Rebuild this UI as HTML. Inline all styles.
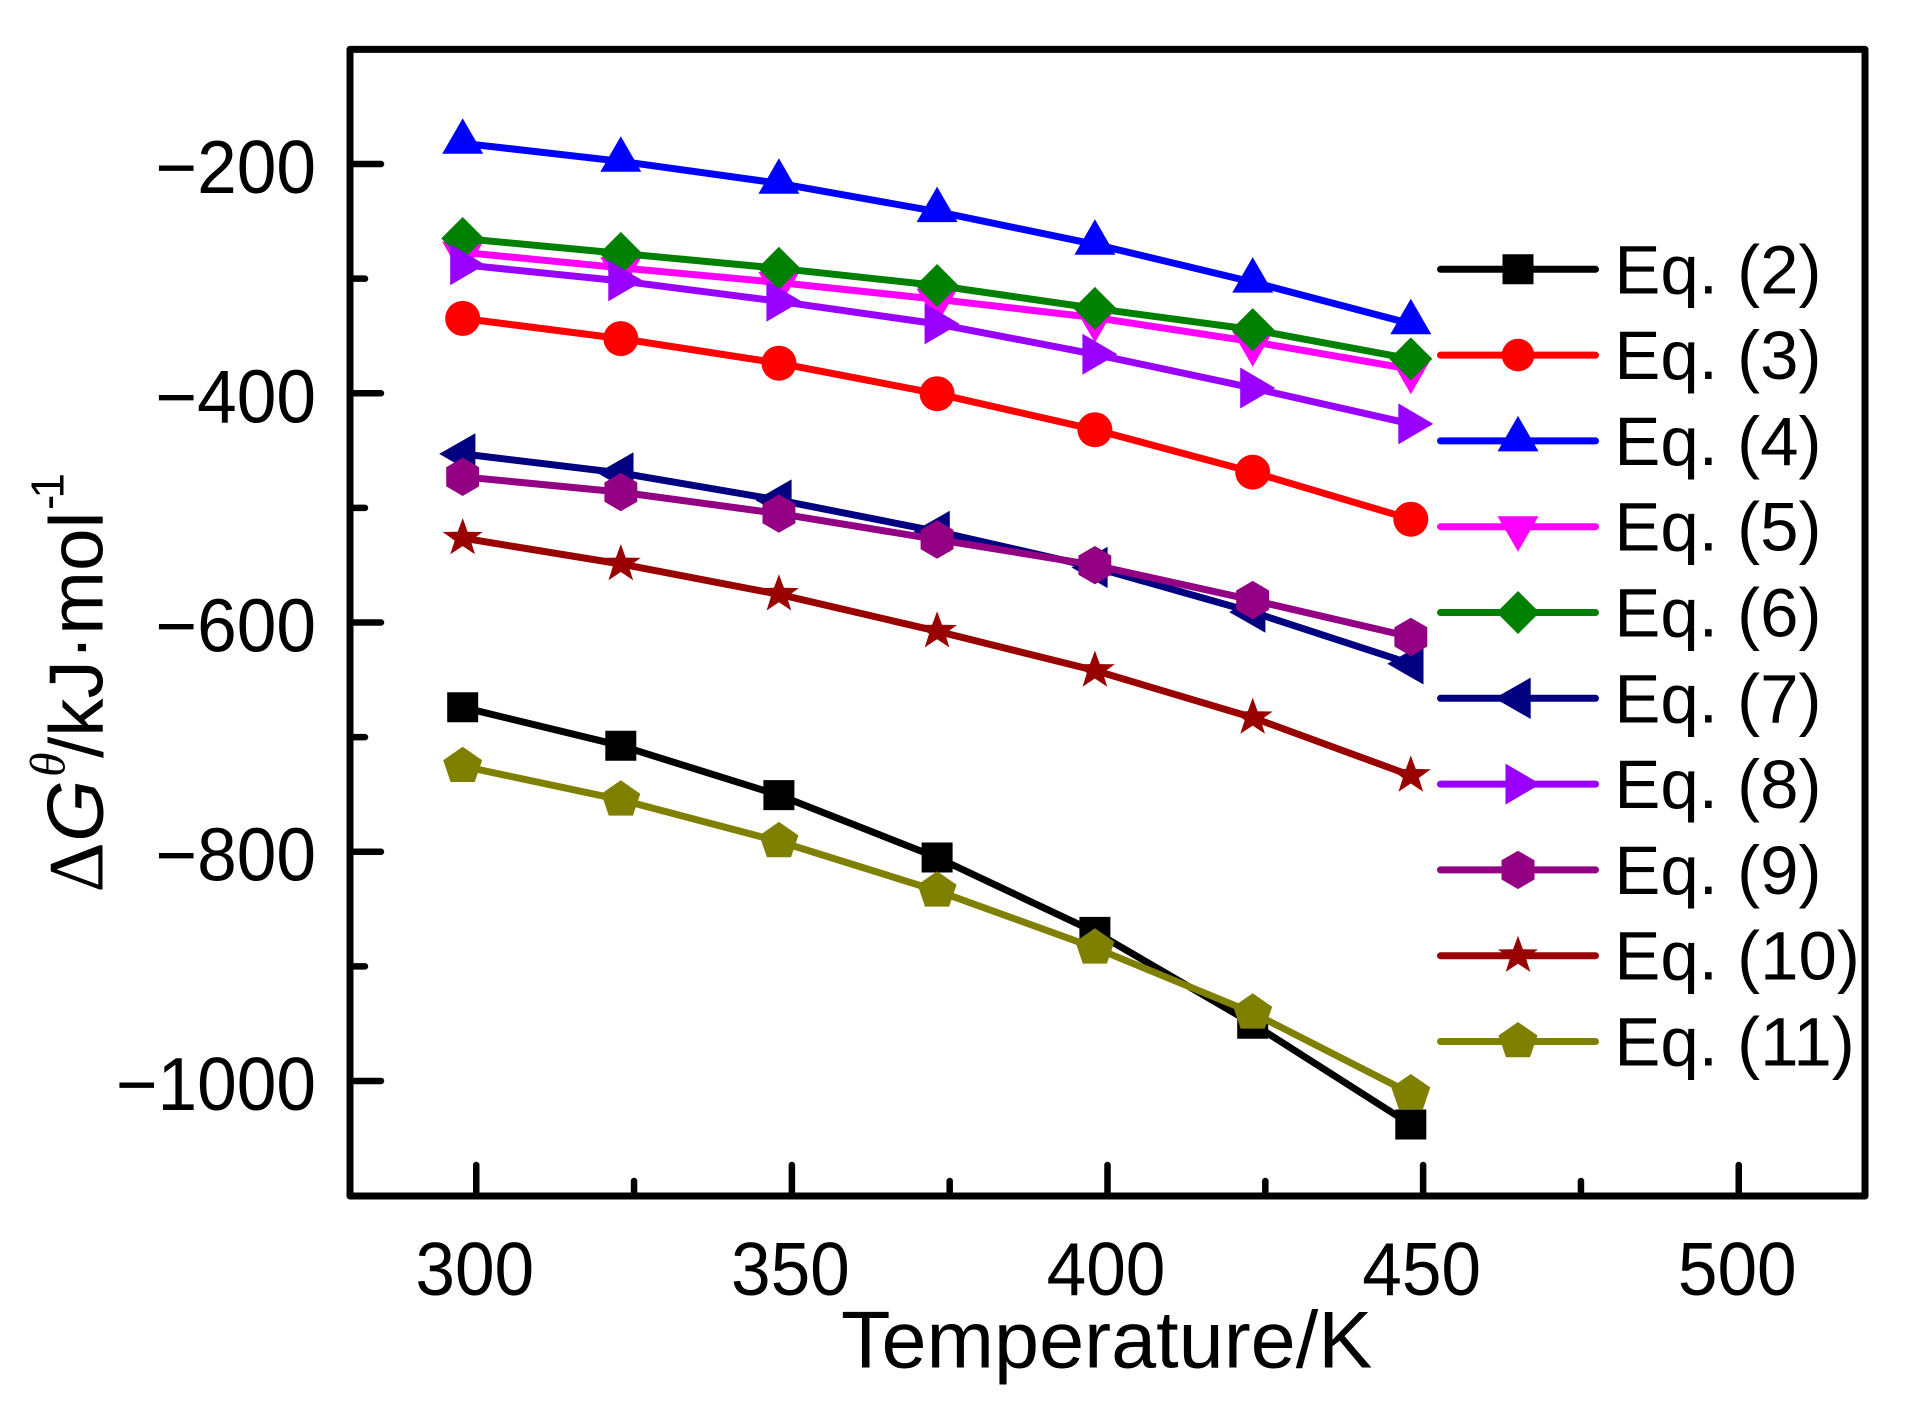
<!DOCTYPE html>
<html lang="en">
<head>
<meta charset="utf-8">
<title>Gibbs free energy vs temperature</title>
<style>
html,body{margin:0;padding:0;background:#fff;}
svg{display:block;font-family:"Liberation Sans",Arial,sans-serif;}
</style>
</head>
<body>
<svg id="chart" xmlns="http://www.w3.org/2000/svg" width="1906" height="1406" viewBox="0 0 1906 1406">
  <rect x="0" y="0" width="1906" height="1406" fill="#fff"/>
  <g id="x-ticks"></g>
  <g id="y-ticks"></g>
  <rect x="350" y="49.4" width="1515" height="1146.6" fill="none" stroke="#000" stroke-width="7" stroke-linejoin="round"/>
  <g id="series"></g>
  <g id="legend"></g>
  <text x="841" y="1367.5" font-size="81" fill="#000">Temperature/K</text>
  <text transform="translate(102.7,891) rotate(-90)" font-size="76.5" fill="#000"><tspan x="-1.5" y="0" font-family="'Liberation Serif',serif" font-size="78">Δ</tspan><tspan x="49" y="0" font-style="italic" font-size="80">G</tspan><tspan x="114" y="-38" font-family="'Liberation Serif',serif" font-style="italic" font-size="50">θ</tspan><tspan x="133" y="0">/kJ·mol</tspan><tspan x="381" y="-39" font-size="46" letter-spacing="-4">-1</tspan></text>
</svg>
<script>
const temperatures = [297.85, 322.9, 347.95, 373, 398, 423, 448.05];
const eq2 = [-674, -707.5, -750.6, -805, -869.9, -950, -1038];
const eq3 = [-334.7, -352.3, -373.8, -400.4, -431.8, -468.8, -509.9];
const eq4 = [-181.9, -197.6, -216.8, -241.5, -270, -303, -339.3];
const eq5 = [-277, -290.5, -303.4, -318, -334, -355, -379];
const eq6 = [-265, -278, -291, -306, -326, -344.5, -370];
const eq7 = [-452.9, -469.6, -493.2, -520.5, -551.9, -590.9, -636];
const eq8 = [-287.8, -302, -319.8, -339.5, -366, -395.4, -426.7];
const eq9 = [-472.9, -486.2, -505, -527.6, -550, -580.5, -612.6];
const eq10 = [-526.4, -549, -575.4, -607.6, -641.9, -683, -733.5];
const eq11 = [-725.4, -754.7, -791, -834.1, -883.8, -940.5, -1010.9];
const seriesLabels = ["Eq. (2)", "Eq. (3)", "Eq. (4)", "Eq. (5)", "Eq. (6)", "Eq. (7)", "Eq. (8)", "Eq. (9)", "Eq. (10)", "Eq. (11)"];
const xMajorTicks = [300, 350, 400, 450, 500];
const xMinorTicks = [325, 375, 425, 475];
const yMajorTicks = [-200, -400, -600, -800, -1000];
const yMinorTicks = [-300, -500, -700, -900];

const seriesValues = [eq2, eq3, eq4, eq5, eq6, eq7, eq8, eq9, eq10, eq11];
const seriesStyles = [
  ["#000000", "square"], ["#ff0000", "circle"], ["#0000ff", "up"], ["#ff00ff", "down"], ["#008000", "diamond"],
  ["#000080", "left"], ["#9900ff", "right"], ["#930084", "hexagon"], ["#990000", "star"], ["#808000", "pentagon"]
];

const NS = "http://www.w3.org/2000/svg";
const plot = { left: 350, right: 1865, top: 49.4, bottom: 1195.6, xMin: 280, xMax: 520, yMin: -1100, yMax: -100 };
function xScale(v) { return plot.left + (v - plot.xMin) / (plot.xMax - plot.xMin) * (plot.right - plot.left); }
function yScale(v) { return plot.bottom - (v - plot.yMin) / (plot.yMax - plot.yMin) * (plot.bottom - plot.top); }
function make(tag, attrs, parent) {
  const el = document.createElementNS(NS, tag);
  for (const k in attrs) el.setAttribute(k, attrs[k]);
  parent.appendChild(el);
  return el;
}
function slug(label) { return label.toLowerCase().replace(/[^a-z0-9]+/g, "-").replace(/-$/, ""); }

function starPoints(Rx, Ry, ratio) {
  const p = [];
  for (let i = 0; i < 10; i++) {
    const a = -Math.PI / 2 + i * Math.PI / 5, q = i % 2 ? ratio : 1;
    p.push([q * Rx * Math.cos(a), q * Ry * Math.sin(a)]);
  }
  return p;
}
function polyPoints(n, Rx, Ry) {
  const p = [];
  for (let i = 0; i < n; i++) {
    const a = -Math.PI / 2 + i * 2 * Math.PI / n;
    p.push([Rx * Math.cos(a), Ry * Math.sin(a)]);
  }
  return p;
}
const shapes = {
  square: [[-15.5, -15], [15.5, -15], [15.5, 15], [-15.5, 15]],
  up: [[0, -25], [20.5, 10.5], [-20.5, 10.5]],
  down: [[0, 25], [20.5, -10.5], [-20.5, -10.5]],
  left: [[-23.5, 0], [12.7, -20.7], [12.7, 20.7]],
  right: [[22.5, 0], [-12.5, -20.5], [-12.5, 20.5]],
  diamond: [[0, -21.5], [21.5, 0], [0, 21.5], [-21.5, 0]],
  hexagon: polyPoints(6, 19, 19.2),
  star: starPoints(21, 20, 0.4),
  pentagon: polyPoints(5, 20.5, 19.5)
};
function drawMarker(parent, kind, cx, cy, color, radius) {
  let el;
  if (kind === "circle") {
    el = make("ellipse", { cx: cx, cy: cy, rx: radius, ry: radius, fill: color }, parent);
  } else {
    const pts = shapes[kind].map(function (p) { return (cx + p[0]).toFixed(1) + "," + (cy + p[1]).toFixed(1); }).join(" ");
    el = make("polygon", { points: pts, fill: color }, parent);
  }
  return el;
}

/* axes */
const xTicksG = document.getElementById("x-ticks");
xMajorTicks.forEach(function (t) {
  const x = xScale(t);
  const line = make("line", { x1: x, x2: x, y1: plot.bottom, y2: 1165, stroke: "#000", "stroke-width": 6.5, "stroke-linecap": "round" }, xTicksG);
  
  
  const label = make("text", { transform: "translate(" + (x - 1.5) + ",1295) scale(0.95,1)", "font-size": 75, "text-anchor": "middle", fill: "#000" }, xTicksG);
  label.textContent = String(t);
  
  
});
xMinorTicks.forEach(function (t) {
  const x = xScale(t);
  const line = make("line", { x1: x, x2: x, y1: plot.bottom, y2: 1181, stroke: "#000", "stroke-width": 6.5, "stroke-linecap": "round" }, xTicksG);
  
  
});
const yTicksG = document.getElementById("y-ticks");
yMajorTicks.forEach(function (t) {
  const y = yScale(t);
  const line = make("line", { x1: plot.left, x2: 381, y1: y, y2: y, stroke: "#000", "stroke-width": 6.5, "stroke-linecap": "round" }, yTicksG);
  
  
  const label = make("text", { transform: "translate(316," + (y + 29) + ") scale(0.95,1)", "font-size": 75, "text-anchor": "end", fill: "#000" }, yTicksG);
  label.textContent = "\u2212" + Math.abs(t);
  
  
});
yMinorTicks.forEach(function (t) {
  const y = yScale(t);
  const line = make("line", { x1: plot.left, x2: 365, y1: y, y2: y, stroke: "#000", "stroke-width": 6.5, "stroke-linecap": "round" }, yTicksG);
  
  
});

/* series */
const seriesG = document.getElementById("series");
seriesValues.forEach(function (values, i) {
  const color = seriesStyles[i][0], kind = seriesStyles[i][1];
  const g = make("g", {}, seriesG);
  
  
  const pts = values.map(function (v, j) { return xScale(temperatures[j]).toFixed(1) + "," + yScale(v).toFixed(1); }).join(" ");
  const line = make("polyline", { points: pts, fill: "none", stroke: color, "stroke-width": 7, "stroke-linejoin": "round" }, g);
  
  
  values.forEach(function (v, j) {
    const m = drawMarker(g, kind, xScale(temperatures[j]), yScale(v), color, 17.5);
    
    
  });
});

/* legend */
const legendG = document.getElementById("legend");
seriesLabels.forEach(function (label, i) {
  const y = 269.3 + i * 85.8;
  const color = seriesStyles[i][0], kind = seriesStyles[i][1];
  const g = make("g", {}, legendG);
  
  
  const line = make("line", { x1: 1440.5, x2: 1595.5, y1: y, y2: y, stroke: color, "stroke-width": 7, "stroke-linecap": "round" }, g);
  
  
  const m = drawMarker(g, kind, 1518, y, color, 16.3);
  
  
  const t = make("text", { x: 1614.4, y: y + 24, "font-size": 69, fill: "#000" }, g);
  t.textContent = label;
  
  
});
</script>
</body>
</html>
